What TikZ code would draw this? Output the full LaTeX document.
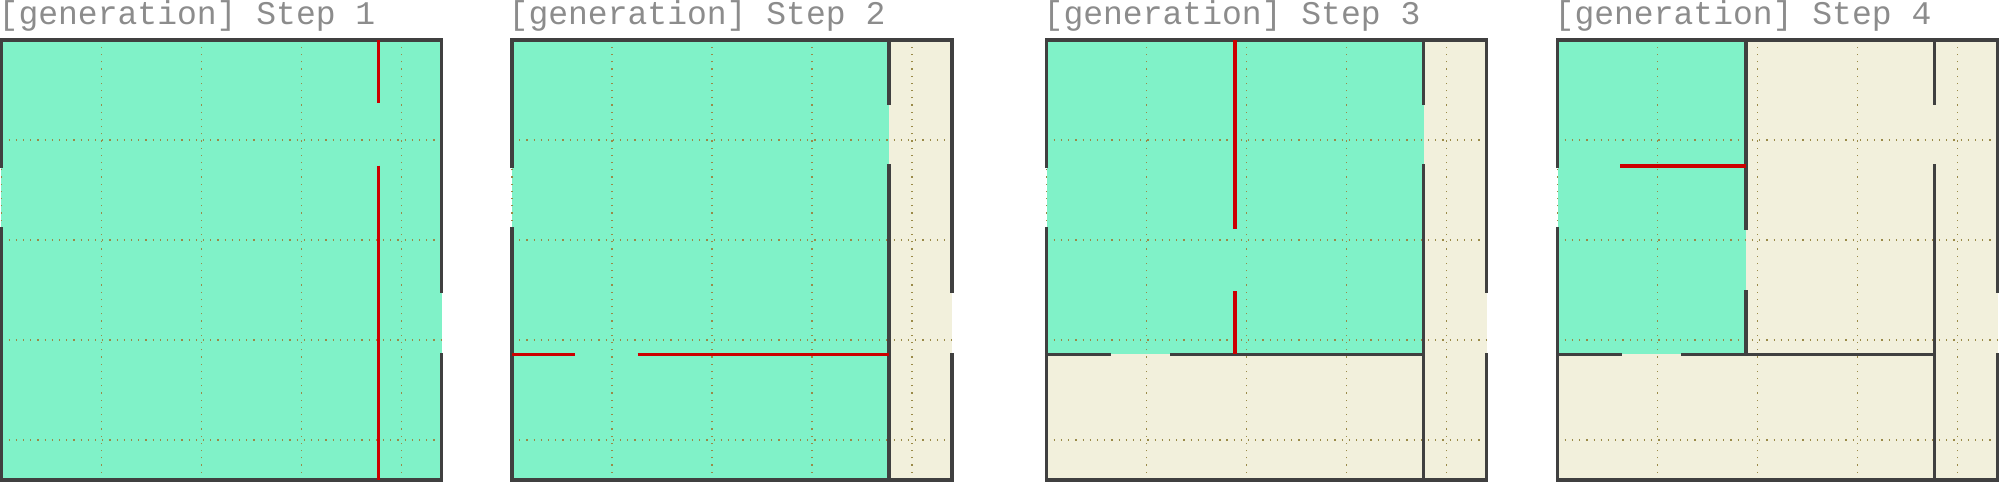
\documentclass[tikz,border=0pt]{standalone}
\usepackage{fontspec}
\setmonofont{Liberation Mono}
\usepackage{tikz}
\usetikzlibrary{positioning}
\definecolor{cellgreen}{HTML}{80F2C8}
\definecolor{cellbeige}{HTML}{F2F0DC}
\definecolor{wallgray}{HTML}{404040}
\definecolor{wallred}{HTML}{CC0000}
\definecolor{gridolive}{HTML}{9A8A48}
\definecolor{titlegray}{HTML}{8C8C8C}
\tikzset{
  title/.style={anchor=base west, inner sep=0pt, text=titlegray, font=\ttfamily\fontsize{9.4pt}{11pt}\selectfont},
  visited/.style={fill=cellgreen},
  unvisited/.style={fill=cellbeige},
  gridline/.style={draw=gridolive, line width=0.12mm, dash pattern=on 0.12mm off 0.6mm},
  wall/.style={draw=wallgray, line width=0.36mm, line cap=rect},
  newwall/.style={draw=wallred, line width=0.36mm},
  panel/.style={x=6.286mm, y=-6.286mm}
}
\begin{document}
\begin{tikzpicture}[x=0.1mm,y=-0.1mm]
  \useasboundingbox (0,0) rectangle (2000,481);
  % titles
  \node[title] (title1) at (-2,24) {[generation] Step 1};
  \node[title] (title2) at (508,24) {[generation] Step 2};
  \node[title] (title3) at (1043,24) {[generation] Step 3};
  \node[title] (title4) at (1554,24) {[generation] Step 4};

  % step 1
  \begin{scope}[shift={(1.5,40)}, panel]
    \fill[visited] (0,0) rectangle (7,7);
    \draw[gridline] (0,0) grid (7,7);
    \draw[wall] (0,0) -- (7,0);
    \draw[wall] (0,7) -- (7,7);
    \draw[wall] (0,0) -- (0,2);
    \draw[wall] (0,3) -- (0,7);
    \draw[wall] (7,0) -- (7,4);
    \draw[wall] (7,5) -- (7,7);
    \draw[newwall] (6,0) -- (6,1);
    \draw[newwall] (6,2) -- (6,7);
  \end{scope}

  % step 2
  \begin{scope}[shift={(512,40)}, panel]
    \fill[visited] (0,0) rectangle (6,7);
    \fill[unvisited] (6,0) rectangle (7,7);
    \draw[gridline] (0,0) grid (7,7);
    \draw[wall] (0,0) -- (7,0);
    \draw[wall] (0,7) -- (7,7);
    \draw[wall] (0,0) -- (0,2);
    \draw[wall] (0,3) -- (0,7);
    \draw[wall] (7,0) -- (7,4);
    \draw[wall] (7,5) -- (7,7);
    \draw[wall] (6,0) -- (6,1);
    \draw[wall] (6,2) -- (6,7);
    \draw[newwall] (0,5) -- (1,5);
    \draw[newwall] (2,5) -- (6,5);
  \end{scope}

  % step 3
  \begin{scope}[shift={(1046.5,40)}, panel]
    \fill[visited] (0,0) rectangle (6,5);
    \fill[unvisited] (0,5) rectangle (6,7);
    \fill[unvisited] (6,0) rectangle (7,7);
    \draw[gridline] (0,0) grid (7,7);
    \draw[wall] (0,0) -- (7,0);
    \draw[wall] (0,7) -- (7,7);
    \draw[wall] (0,0) -- (0,2);
    \draw[wall] (0,3) -- (0,7);
    \draw[wall] (7,0) -- (7,4);
    \draw[wall] (7,5) -- (7,7);
    \draw[wall] (6,0) -- (6,1);
    \draw[wall] (6,2) -- (6,7);
    \draw[wall] (0,5) -- (1,5);
    \draw[wall] (2,5) -- (6,5);
    \draw[newwall] (3,0) -- (3,3);
    \draw[newwall] (3,4) -- (3,5);
  \end{scope}

  % step 4
  \begin{scope}[shift={(1557.5,40)}, panel]
    \fill[visited] (0,0) rectangle (3,5);
    \fill[unvisited] (3,0) rectangle (7,5);
    \fill[unvisited] (0,5) rectangle (7,7);
    \draw[gridline] (0,0) grid (7,7);
    \draw[wall] (0,0) -- (7,0);
    \draw[wall] (0,7) -- (7,7);
    \draw[wall] (0,0) -- (0,2);
    \draw[wall] (0,3) -- (0,7);
    \draw[wall] (7,0) -- (7,4);
    \draw[wall] (7,5) -- (7,7);
    \draw[wall] (6,0) -- (6,1);
    \draw[wall] (6,2) -- (6,7);
    \draw[wall] (0,5) -- (1,5);
    \draw[wall] (2,5) -- (6,5);
    \draw[wall] (3,0) -- (3,3);
    \draw[wall] (3,4) -- (3,5);
    \draw[newwall] (1,2) -- (3,2);
  \end{scope}
\end{tikzpicture}
\end{document}
